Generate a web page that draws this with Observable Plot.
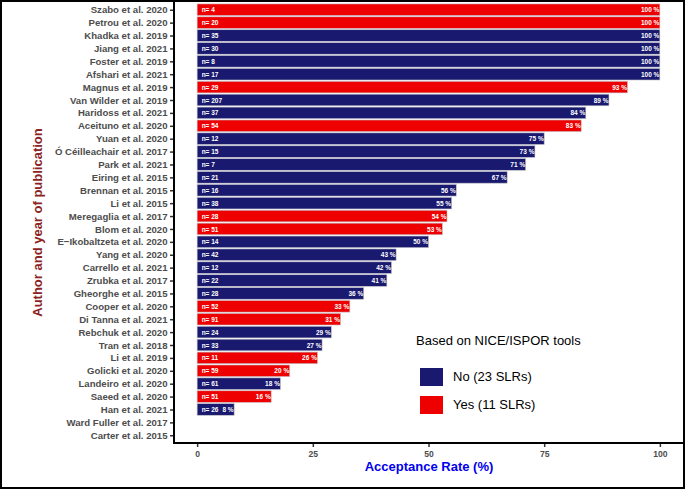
<!DOCTYPE html>
<html>
<head>
<meta charset="utf-8">
<script src="https://cdn.jsdelivr.net/npm/d3@7"></script>
<script src="https://cdn.jsdelivr.net/npm/@observablehq/plot@0.6"></script>
<style>
  html, body { margin: 0; padding: 0; background: #fff; }
  #wrap { position: relative; width: 685px; height: 489px; overflow: hidden; font-family: "Liberation Sans", Arial, sans-serif; }
  #border { position: absolute; left: 0; top: 0; width: 685px; height: 489px; box-sizing: border-box; border: 2px solid #000; pointer-events: none; }
  #legend { position: absolute; left: 416px; top: 333px; color: #000; font-size: 13px; }
  .lg-title { position: absolute; left: 0; top: 0; white-space: nowrap; }
  .lg-key { position: absolute; left: 4px; width: 23px; height: 18px; }
  .lg-lab { position: absolute; left: 37px; white-space: nowrap; line-height: 18px; }
</style>
</head>
<body>
<div id="wrap"><div id="chart"></div><div id="legend"></div><div id="border"></div></div>
<script>
const authors = [
  "Szabo et al. 2020", "Petrou et al. 2020", "Khadka et al. 2019", "Jiang et al. 2021",
  "Foster et al. 2019", "Afshari et al. 2021", "Magnus et al. 2019", "Van Wilder et al. 2019",
  "Haridoss et al. 2021", "Aceituno et al. 2020", "Yuan et al. 2020", "Ó Céilleachair et al. 2017",
  "Park et al. 2021", "Eiring et al. 2015", "Brennan et al. 2015", "Li et al. 2015",
  "Meregaglia et al. 2017", "Blom et al. 2020", "E\u2212Ikobaltzeta et al. 2020", "Yang et al. 2020",
  "Carrello et al. 2021", "Zrubka et al. 2017", "Gheorghe et al. 2015", "Cooper et al. 2020",
  "Di Tanna et al. 2021", "Rebchuk et al. 2020", "Tran et al. 2018", "Li et al. 2019",
  "Golicki et al. 2020", "Landeiro et al. 2020", "Saeed et al. 2020", "Han et al. 2021",
  "Ward Fuller et al. 2017", "Carter et al. 2015"
];
const sampleSizes = [4, 20, 35, 30, 8, 17, 29, 207, 37, 54, 12, 15, 7, 21, 16, 38, 28, 51, 14, 42,
  12, 22, 28, 52, 91, 24, 33, 11, 59, 61, 51, 26, null, null];
const acceptanceRates = [100, 100, 100, 100, 100, 100, 93, 89, 84, 83, 75, 73, 71, 67, 56, 55, 54, 53, 50, 43,
  42, 41, 36, 33, 31, 29, 27, 26, 20, 18, 16, 8, null, null];
const niceIspor = ["Yes", "Yes", "No", "No", "No", "No", "Yes", "No", "No", "Yes", "No", "No", "No", "No", "No", "No",
  "Yes", "Yes", "No", "No", "No", "No", "No", "Yes", "Yes", "No", "No", "Yes", "Yes", "No", "Yes", "No", "No", "No"];
const xTicks = [0, 25, 50, 75, 100];
const legendGroups = ["No", "Yes"];
const legendLabels = ["No (23 SLRs)", "Yes (11 SLRs)"];
const legendColors = ["#191970", "#EE0000"];

const rows = authors.map((a, i) => ({author: a, n: sampleSizes[i], rate: acceptanceRates[i], tool: niceIspor[i]}));
const barsData = rows.filter(d => d.rate != null);

const font = "'Liberation Sans', Arial, sans-serif";

const plot = Plot.plot({
  width: 685,
  height: 489,
  marginLeft: 174,
  marginRight: 2,
  marginTop: 2,
  marginBottom: 46,
  style: {fontFamily: font, background: "transparent"},
  x: {domain: [-5, 105]},
  y: {domain: authors, paddingInner: 0.1, paddingOuter: 0.15},
  color: {domain: legendGroups, range: legendColors},
  marks: [
    Plot.barX(barsData, {x: "rate", y: "author", fill: "tool", stroke: "#c4c4cc", strokeWidth: 0.6}),
    Plot.text(barsData, {x: 0, y: "author", text: d => "n= " + d.n, textAnchor: "start", dx: 4,
      fill: "white", fontWeight: "bold", fontSize: 6.5}),
    Plot.text(barsData, {x: "rate", y: "author", text: d => d.rate + " %", textAnchor: "end", dx: -1,
      fill: "white", fontWeight: "bold", fontSize: 6.5}),
    Plot.axisY({tickSize: 4, tickPadding: 3, fontSize: 9.6, fontWeight: "bold", color: "#4d4d4d",
      stroke: "#333", strokeWidth: 1.5, label: null}),
    Plot.axisX({ticks: xTicks, tickSize: 4, tickPadding: 3, fontSize: 8.6, fontWeight: "bold", color: "#4d4d4d",
      stroke: "#333", strokeWidth: 1.5, label: null}),
    Plot.text(["Acceptance Rate (%)"], {frameAnchor: "bottom", dy: 27, fill: "#0000ee", fontWeight: "bold", fontSize: 13})
  ]
});

// axis lines and y title, placed from the plot's own scales
const sx = plot.scale("x");
const sy = plot.scale("y");
const svg = d3.select(plot);
const x0 = sx.apply(-5), x1 = sx.apply(105);
const yTop = sy.range[0], yBot = sy.range[1];
svg.append("line").attr("x1", x0).attr("x2", x0).attr("y1", yTop).attr("y2", yBot + 1)
  .attr("stroke", "#000").attr("stroke-width", 2);
svg.append("line").attr("x1", x0 - 1).attr("x2", x1).attr("y1", yBot).attr("y2", yBot)
  .attr("stroke", "#000").attr("stroke-width", 2);
svg.append("text")
  .attr("transform", `translate(37,${(yTop + yBot) / 2}) rotate(-90)`)
  .attr("text-anchor", "middle")
  .attr("dominant-baseline", "central")
  .attr("fill", "#8b2323")
  .attr("font-weight", "bold")
  .attr("font-size", 13)
  .attr("font-family", font)
  .text("Author and year of publication");

document.getElementById("chart").appendChild(plot);

// legend
const lg = d3.select("#legend");
lg.append("div").attr("class", "lg-title").text("Based on NICE/ISPOR tools");
legendLabels.forEach((lab, i) => {
  const top = 35 + i * 27.5;
  lg.append("div").attr("class", "lg-key").style("top", top + "px").style("background", legendColors[i]);
  lg.append("div").attr("class", "lg-lab").style("top", top + "px").text(lab);
});
</script>
</body>
</html>
